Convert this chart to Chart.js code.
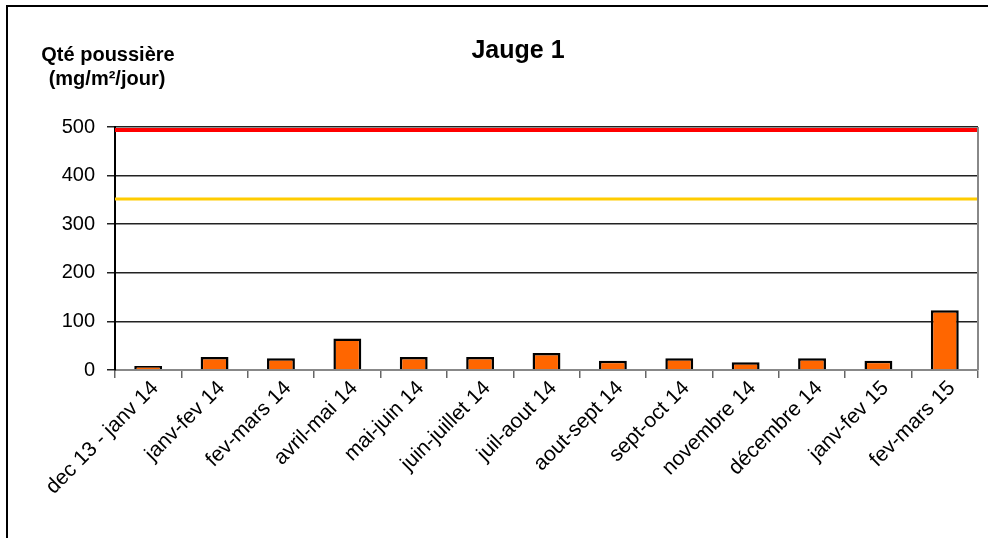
<!DOCTYPE html>
<html>
<head>
<meta charset="utf-8">
<script src="https://cdn.jsdelivr.net/npm/chart.js@4"></script>
<style>
  body { margin: 0; background: #fff; }
  canvas { display: block; }
</style>
</head>
<body>
<canvas id="chart" width="988" height="538"></canvas>
<script>
const categories = ['dec 13 - janv 14', 'janv-fev 14', 'fev-mars 14', 'avril-mai 14', 'mai-juin 14',
  'juin-juillet 14', 'juil-aout 14', 'aout-sept 14', 'sept-oct 14', 'novembre 14',
  'décembre 14', 'janv-fev 15', 'fev-mars 15'];
const dustValues = [8, 27, 24, 65, 27, 27, 35, 19, 24, 16, 24, 19, 123];
const redLimit = 494;
const yellowLimit = 352;
const chartTitle = 'Jauge 1';
const yTitle = ['Qté poussière', '(mg/m²/jour)'];

const FONT = '"Liberation Sans", Arial, sans-serif';

const framePlugin = {
  id: 'frame',
  afterDraw(chart) {
    const ctx = chart.ctx;
    const area = chart.chartArea;
    ctx.save();
    // outer frame (left and top only)
    ctx.strokeStyle = '#000';
    ctx.lineWidth = 2;
    ctx.beginPath();
    ctx.moveTo(7, 538);
    ctx.lineTo(7, 6);
    ctx.lineTo(988, 6);
    ctx.stroke();
    // right border of plot
    ctx.strokeStyle = '#888';
    ctx.lineWidth = 2;
    ctx.beginPath();
    ctx.moveTo(area.right, area.top);
    ctx.lineTo(area.right, area.bottom);
    ctx.stroke();
    // titles
    ctx.fillStyle = '#000';
    ctx.textAlign = 'center';
    ctx.textBaseline = 'alphabetic';
    ctx.font = 'bold 25px ' + FONT;
    ctx.fillText(chartTitle, 518, 58);
    ctx.font = 'bold 20px ' + FONT;
    ctx.fillText(yTitle[0], 108, 61);
    ctx.fillText(yTitle[1], 107, 85);
    ctx.restore();
  }
};

new Chart(document.getElementById('chart'), {
  type: 'bar',
  data: {
    labels: categories,
    datasets: [
      {
        data: dustValues,
        backgroundColor: '#ff6600',
        borderColor: '#000',
        borderWidth: 2.5,
        grouped: false,
        barPercentage: 0.42,
        categoryPercentage: 1
      },
      {
        type: 'line',
        data: [{ x: 0, y: redLimit }, { x: 1, y: redLimit }],
        xAxisID: 'x2',
        borderColor: '#ff0000',
        borderWidth: 4,
        pointRadius: 0,
        clip: false
      },
      {
        type: 'line',
        data: [{ x: 0, y: yellowLimit }, { x: 1, y: yellowLimit }],
        xAxisID: 'x2',
        borderColor: '#ffcc00',
        borderWidth: 3,
        pointRadius: 0,
        clip: false
      }
    ]
  },
  options: {
    responsive: false,
    animation: false,
    layout: { padding: { top: 127, right: 10, left: 0, bottom: 0 } },
    plugins: { legend: { display: false }, title: { display: false }, tooltip: { enabled: false } },
    scales: {
      x: {
        afterFit(scale) { scale.height = 168; },
        grid: { offset: true, drawOnChartArea: false, drawTicks: true, tickLength: 8, color: '#666', lineWidth: 1.5 },
        border: { color: '#888', width: 2 },
        ticks: {
          minRotation: 45, maxRotation: 45, color: '#000', padding: -2, labelOffset: 7,
          font: { family: FONT, size: 21 }
        }
      },
      x2: { type: 'linear', min: 0, max: 1, offset: false, display: false },
      y: {
        min: 0, max: 500,
        afterFit(scale) { scale.width = 115; },
        grid: { color: '#222', lineWidth: 1.5, tickLength: 8 },
        border: { color: '#000', width: 2 },
        ticks: {
          stepSize: 100, color: '#000', padding: 12,
          font: { family: FONT, size: 20 }
        }
      }
    }
  },
  plugins: [framePlugin]
});
</script>
</body>
</html>
